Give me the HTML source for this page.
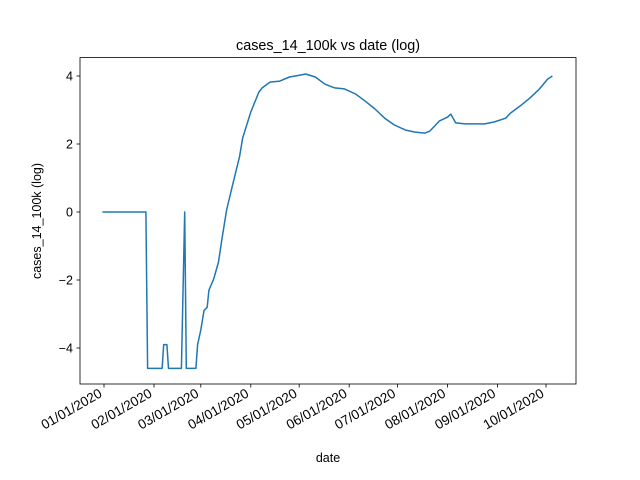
<!DOCTYPE html>
<html><head><meta charset="utf-8"><style>body{margin:0;background:#fff}svg{display:block;font-family:"Liberation Sans","DejaVu Sans",sans-serif}</style></head>
<body>
<svg id="chart" width="640" height="480">
<rect width="640" height="480" fill="#fff"/>
<text x="328" y="50" text-anchor="middle" font-size="14.4">cases_14_100k vs date (log)</text>
<text x="328" y="462" text-anchor="middle" font-size="12.5">date</text>
<text transform="translate(41,221) rotate(-90)" text-anchor="middle" font-size="12.5">cases_14_100k (log)</text>
<g id="ticks"></g>
<path id="line" fill="none" stroke="#1f77b4" stroke-width="1.5" stroke-linejoin="round"/>
<rect x="80" y="57.6" width="496" height="326.4" fill="none" stroke="#000" stroke-width="0.8"/>
</svg>
<script>
const days=[-1,26,27,36,37,39,40,48,50,51,57,58,60,62,64,65,68,71,73,76,79,82,84,86,91,96,98,103,109,115,122,125,131,137,143,149,156,162,168,174,180,187,193,199,202,208,213,215,218,224,230,236,242,249,252,258,264,270,275,278];
const values=[0,0,-4.6,-4.6,-3.9,-3.9,-4.6,-4.6,0,-4.6,-4.6,-3.9,-3.47,-2.9,-2.8,-2.3,-1.97,-1.47,-0.82,0.06,0.65,1.24,1.62,2.18,2.94,3.53,3.65,3.82,3.85,3.97,4.03,4.06,3.97,3.76,3.65,3.62,3.47,3.26,3.03,2.76,2.56,2.41,2.35,2.32,2.38,2.68,2.79,2.88,2.62,2.59,2.59,2.59,2.65,2.76,2.91,3.12,3.35,3.62,3.91,4.0];
const yTicks=[-4,-2,0,2,4];
const xTickDays=[0,31,60,91,121,152,182,213,244,274];
const xTickLabels=["01/01/2020","02/01/2020","03/01/2020","04/01/2020","05/01/2020","06/01/2020","07/01/2020","08/01/2020","09/01/2020","10/01/2020"];
const xs=d=>104+d*1.6131;
const ys=v=>212-v*34;
const NS="http://www.w3.org/2000/svg";
const g=document.getElementById('ticks');
function mk(t,a){const e=document.createElementNS(NS,t);for(const k in a)e.setAttribute(k,a[k]);g.appendChild(e);return e;}
yTicks.forEach(v=>{
  const l=mk('line',{x1:76.5,x2:80,y1:ys(v),y2:ys(v),stroke:'#000','stroke-width':0.8});
  
  
  const t=mk('text',{x:73,y:ys(v)+4.5,'text-anchor':'end','font-size':12.5});
  t.textContent=(v<0?'\u2212'+(-v):v);
  
  
});
xTickDays.forEach((d,i)=>{
  const x=xs(d);
  const l=mk('line',{x1:x,x2:x,y1:384,y2:387.5,stroke:'#000','stroke-width':0.8});
  
  
  const t=mk('text',{transform:`translate(${x-1},${396}) rotate(-30)`,'text-anchor':'end','font-size':13.5});
  t.textContent=xTickLabels[i];
  
  
});
document.getElementById('line').setAttribute('d',days.map((d,i)=>(i?'L':'M')+xs(d).toFixed(1)+','+ys(values[i]).toFixed(1)).join(''));
</script>
</body></html>
